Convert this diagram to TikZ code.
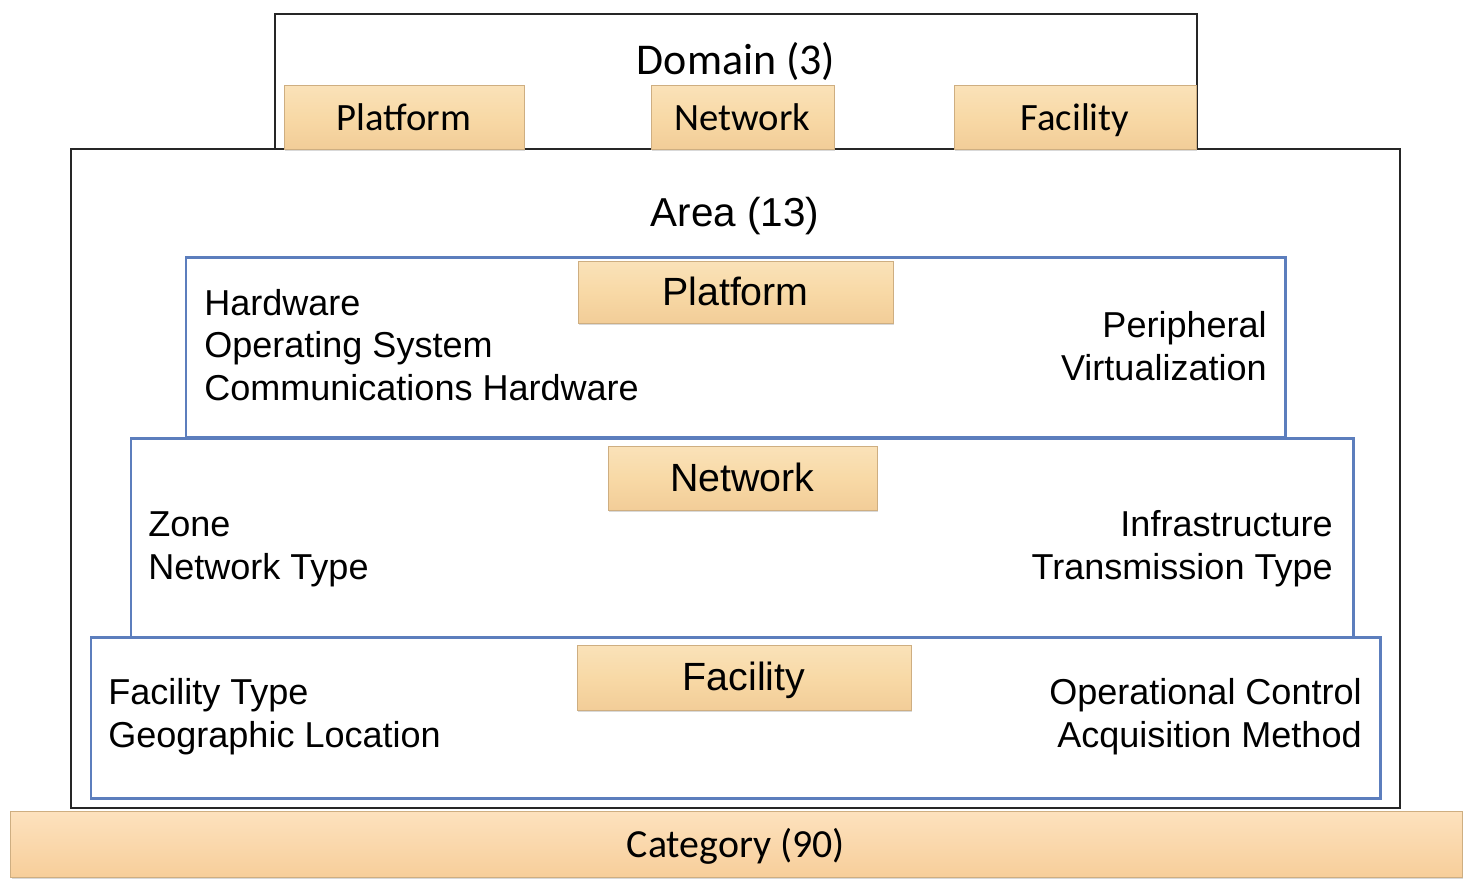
\documentclass[tikz,border=0pt]{standalone}
\usepackage{fontspec}
\setmainfont{Liberation Sans}
\newfontfamily\calibri{Carlito}
\usetikzlibrary{shadows}

\definecolor{tagfill}{HTML}{F8D9A6}
\definecolor{tagtop}{HTML}{FAE2B9}
\definecolor{tagbot}{HTML}{F2CD98}
\definecolor{catfill}{HTML}{FCD5A2}
\definecolor{rowblue}{HTML}{5C7EBD}

\begin{document}
\begin{tikzpicture}[x=0.02cm, y=-0.02cm,
    tag/.style={rectangle, top color=tagtop, bottom color=tagbot, middle color=tagfill,
        draw=tagbot!85!black, line width=0.3pt, inner sep=0pt, text height=15pt, text depth=0pt,
        drop shadow={opacity=0.3, shadow xshift=0.8pt, shadow yshift=-1.4pt}},
    frame/.style={draw=black!85, line width=0.8pt},
    row/.style={draw=rowblue, line width=1.7pt},
    lbl/.style={inner sep=0pt, font=\fontsize{20.5}{24.4}\selectfont}]
    \useasboundingbox (0,0) rectangle (1472,890);

    % Outer frames
    \draw[frame] (275,14) rectangle (1197,149);
    \draw[frame] (71,149) rectangle (1400,808);

    % Domain level
    \node[inner sep=0pt, font=\calibri\fontsize{25}{30}\selectfont] (domain) at (736,61) {Domain (3)};
    \node[tag, minimum width=4.8cm, minimum height=1.28cm, font=\calibri\fontsize{22}{26}\selectfont] (domplat) at (404,117) {Platform};
    \node[tag, minimum width=3.66cm, minimum height=1.28cm, font=\calibri\fontsize{22}{26}\selectfont] (domnet) at (742.5,117) {Network};
    \node[tag, minimum width=4.84cm, minimum height=1.28cm, font=\calibri\fontsize{22}{26}\selectfont] (domfac) at (1075,117) {Facility};

    % Area level
    \node[inner sep=0pt, font=\fontsize{23}{27}\selectfont] (area) at (735,216) {Area (13)};

    % Rows
    \draw[row] (186,257) rectangle (1285,437);
    \draw[row] (131,438) rectangle (1353,637);
    \draw[row] (91,637) rectangle (1380,798);

    \node[tag, minimum width=6.3cm, minimum height=1.24cm, font=\fontsize{22.4}{26}\selectfont] (platform) at (735.5,292) {Platform};
    \node[lbl, anchor=west, align=left] (platleft) at (204,345) {Hardware\\Operating System\\Communications Hardware};
    \node[lbl, anchor=east, align=right] (platright) at (1267,346) {Peripheral\\Virtualization};

    \node[tag, minimum width=5.38cm, minimum height=1.28cm, font=\fontsize{22.4}{26}\selectfont] (network) at (742.5,478) {Network};
    \node[lbl, anchor=west, align=left] (netleft) at (148,549) {Zone\\Network Type};
    \node[lbl, anchor=east, align=right] (netright) at (1333,549) {Infrastructure\\Transmission Type};

    \node[tag, minimum width=6.68cm, minimum height=1.3cm, font=\fontsize{22.4}{26}\selectfont] (facility) at (744,677.5) {Facility};
    \node[lbl, anchor=west, align=left] (facleft) at (108,717) {Facility Type\\Geographic Location};
    \node[lbl, anchor=east, align=right] (facright) at (1362,717) {Operational Control\\Acquisition Method};

    % Category bar
    \node[tag, minimum width=29.04cm, minimum height=1.32cm, top color=catfill!70!white, middle color=catfill, bottom color=catfill!92!brown,
        font=\calibri\fontsize{22.7}{27}\selectfont] (category) at (736,844) {Category (90)};
\end{tikzpicture}
\end{document}
